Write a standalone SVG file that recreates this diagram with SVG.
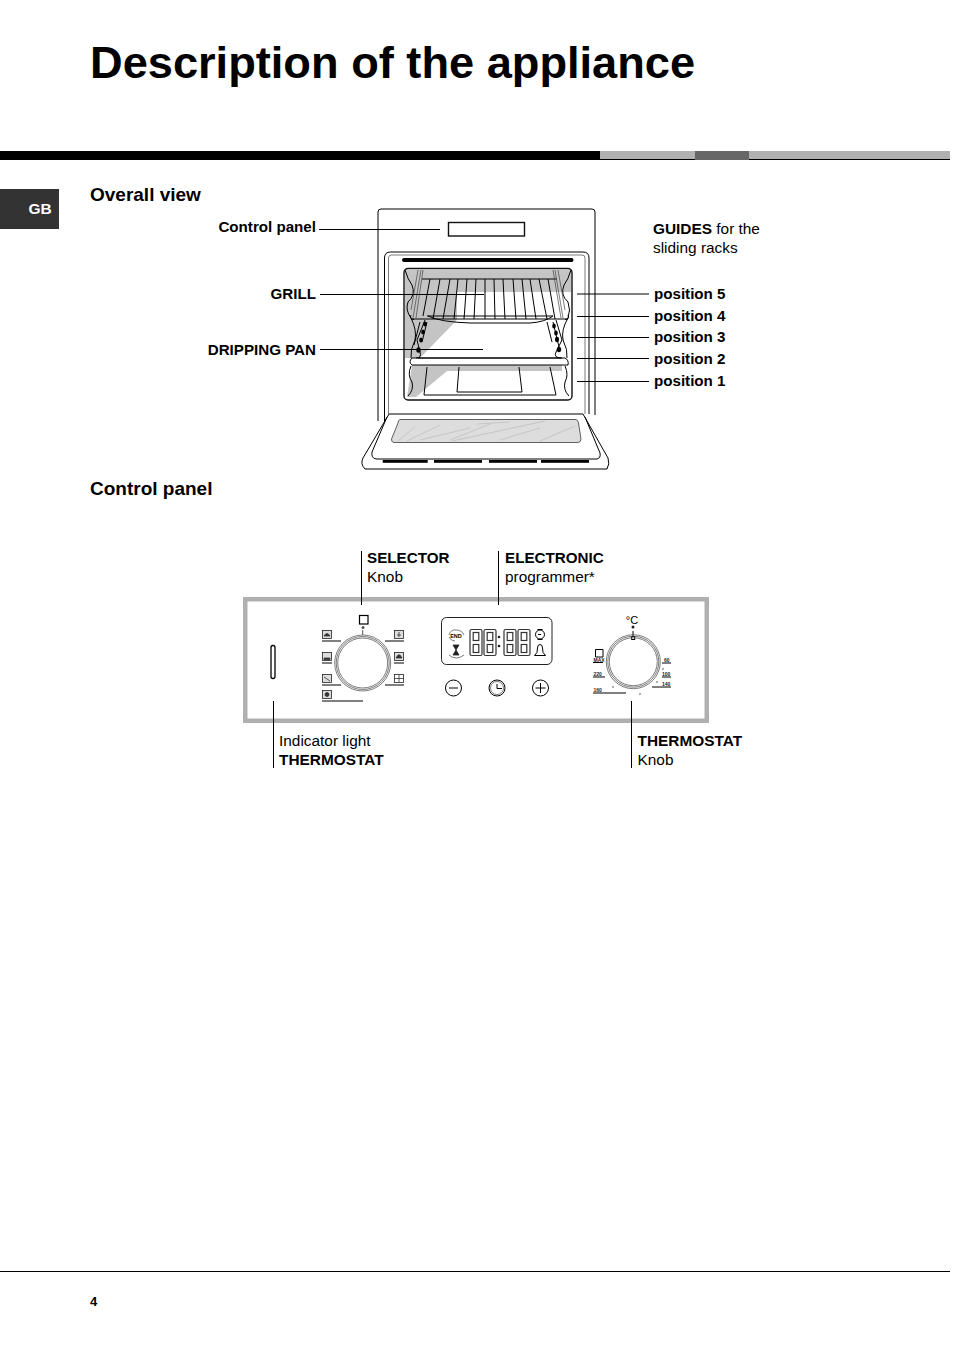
<svg xmlns="http://www.w3.org/2000/svg" xmlns:xlink="http://www.w3.org/1999/xlink" width="954" height="1351" viewBox="0 0 954 1351">
<style>
text{font-family:"Liberation Sans",Arial,sans-serif;fill:#000}
.h{font-size:19px;font-weight:bold}
.l{font-size:15.150px;font-weight:bold}
.r{font-size:15.400px}
.b{font-weight:bold}
.sb{font-size:15.200px;font-weight:bold}
.t{font-size:5px;font-weight:bold;fill:#222}
.o{fill:none;stroke:#000;stroke-width:1}
.o2{fill:none;stroke:#111;stroke-width:1.4}
.w{fill:#fff;stroke:#000;stroke-width:1}
.thin{fill:none;stroke:#444;stroke-width:.7}
.c{stroke:#000;stroke-width:1;fill:none}
.s{fill:none;stroke:#000;stroke-width:1.2}
.ic{fill:#ddd;stroke:#222;stroke-width:.8}
</style>
<defs>
<g id="digit" fill="none" stroke="#333" stroke-width="1.200">
<rect x="0" y="0" width="12" height="26" rx="1.500"/>
<rect x="3.200" y="3" width="5.600" height="8"/>
<rect x="3.200" y="15" width="5.600" height="8"/>
</g>
</defs>
<rect width="954" height="1351" fill="#fff"/>

<g id="header">
<text x="90" y="78" font-size="45.200" font-weight="bold">Description of the appliance</text>
<rect x="0" y="151" width="600" height="9" fill="#000"/>
<rect x="600" y="151" width="350" height="8" fill="#b0b0b0"/>
<rect x="600" y="159" width="350" height="1" fill="#000"/>
<rect x="695" y="151" width="54" height="9" fill="#666"/>
<rect x="0" y="189" width="59" height="40" fill="#333"/>
<text x="40" y="214" font-size="15.500" font-weight="bold" text-anchor="middle" style="fill:#fff">GB</text>
</g>

<g id="headings">
<text class="h" x="90" y="201">Overall view</text>
<text class="h" x="90" y="495">Control panel</text>
</g>

<g id="oven">
<path class="o" d="M378 421V212q0-3 3-3H592q3 0 3 3V415"/>
<rect class="o2" x="448.500" y="222.500" width="76" height="13.500"/>
<path class="o" d="M384.500 421V258q0-6 6-6H583q6 0 6 6V414"/>
<path class="thin" d="M388.500 414V258q0-3 3-3H582q3 0 3 3V414"/>
<rect x="402" y="258" width="171.500" height="4" rx="2" fill="#000"/>
<rect x="404" y="268.500" width="168" height="131.500" rx="4" fill="#fff"/>
<path fill="#c4c4c4" d="M405 270H571V292H457V320L420 358H405Z"/>
<path fill="#c4c4c4" d="M412 365H562V371H447L416 397H407Z"/>
<rect class="o2" x="404" y="268.500" width="168" height="131.500" rx="4"/>
<g id="rack">
<path class="o" d="M422 279H557M411 319H568M427 316H553"/>
<path class="o" d="M430 279L423 316M440 279L433 319M450 279L443 319M458 279L454 319M467 279L464 319M476 279L474 319M485 279V319M494 279L495 319M503 279L505 319M513 279L516 319M522 279L526 319M530 279L536 319M539 279L547 319M548 279L555 319"/>
<path class="o" d="M411 315Q409 319 414 319.500M568 315Q570 319 565 319.500M428 316Q440 322 470 323H530Q545 322 553 316"/>
</g>
<g id="pan">
<path class="w" d="M412 358H565Q569 360 568 365H412Q408 362 412 358Z"/>
<path class="o" d="M416 358Q422 358 420 352L417 340L425 320M562 358Q553 358 556 352L562 340L556 320M418 358H561"/>
<path class="o" d="M411 318Q417 330 415 340Q410 350 411 358M568 318Q561 330 563 340Q568 350 567 358"/>
</g>
<g id="guides">
<path class="o" d="M405 270Q408 280 412 285Q416 295 408 302Q405 310 411 318M571 270Q568 280 564 285Q560 295 568 302Q571 310 568 318"/>
<path class="thin" d="M421 270L413 318M418 270L411 310M423 270L416 318M555 270L563 318M558 270L565 310M553 270L561 318"/>
<path class="o" d="M420 322L414 345M427 322L422 342M553 322L559 347M547 322L552 342"/>
<path class="o" d="M411 366Q407 375 412 382Q414 390 408 396M565 366Q569 375 565 382Q563 390 569 396"/>
<g fill="#000"><ellipse cx="425" cy="324" rx="1.800" ry="2.500"/><ellipse cx="423" cy="332" rx="1.800" ry="2.500"/><ellipse cx="421" cy="340" rx="1.800" ry="2.500"/><ellipse cx="418.500" cy="350" rx="2.200" ry="2.800"/><ellipse cx="554" cy="326" rx="1.800" ry="2.500"/><ellipse cx="556" cy="333" rx="1.800" ry="2.500"/><ellipse cx="557" cy="339.500" rx="2" ry="2.800"/><ellipse cx="559" cy="349.500" rx="2.200" ry="2.800"/></g>
</g>
<path class="o" d="M427 367L424 395H556L550 367M459 367L457 392H522L519 367"/>
<g id="door">
<path class="w" stroke-width="1.200" d="M389 414H583L608 458Q610 464 607 469H365Q360 464 363 458Z"/>
<path class="o" d="M387 417L372 452Q371 458 376 459H597Q601 458 600 453L585 417"/>
<path fill="#ddd" stroke="#222" stroke-width=".7" d="M400 419.500H576Q578 420 578.500 423L581 439Q581 442 578 442.500H394Q391 442 391.500 439L398 423Q398 420 400 419.500Z"/>
<path fill="none" stroke="#b5b5b5" stroke-width=".6" d="M398 441L415 427M407 441L440 425M420 440L470 428M450 440L490 424M452 441L545 421M500 440L540 428M540 441L575 426M477 424L510 422"/>
<g fill="#000"><rect x="382.700" y="460" width="45" height="2.800"/><rect x="434" y="460" width="48" height="2.800"/><rect x="489" y="460" width="48" height="2.800"/><rect x="541" y="460" width="48" height="2.800"/></g>
</g>
</g>

<g id="labels-overall">
<text class="l" x="316" y="232" text-anchor="end">Control panel</text>
<text class="l" x="316" y="299" text-anchor="end">GRILL</text>
<text class="l" x="316" y="355" text-anchor="end">DRIPPING PAN</text>
<text class="r" x="653" y="234"><tspan class="b">GUIDES</tspan> for the</text>
<text class="r" x="653" y="253">sliding racks</text>
<text class="l" x="654" y="299">position 5</text>
<text class="l" x="654" y="321">position 4</text>
<text class="l" x="654" y="342">position 3</text>
<text class="l" x="654" y="364">position 2</text>
<text class="l" x="654" y="386">position 1</text>
</g>

<g id="panel">
<rect x="245.250" y="599.250" width="461.500" height="121.500" fill="#fff" stroke="#b0b0b0" stroke-width="4.500"/>
<rect id="indicator" x="271" y="645.500" width="4" height="33" rx="2" fill="#fff" stroke="#000" stroke-width="1.300"/>
<g id="selector">
<rect class="s" x="359.500" y="615.500" width="8.500" height="8.500"/>
<circle cx="363" cy="627.500" r="1.500" fill="#555"/>
<circle class="thin" cx="362.700" cy="663" r="28"/>
<circle class="thin" cx="362.700" cy="663" r="26.500"/>
<circle class="thin" cx="362.700" cy="663" r="25"/>
<path stroke="#555" d="M362.700 630V635"/>
<path class="c" d="M322 641H341M322 663H332M322 685H341M322 701H363M385 641H404M394 663H404M385 685H404"/>
<g class="ic">
<rect x="322.500" y="630.500" width="9" height="8"/><rect x="322.500" y="652.500" width="9" height="8"/><rect x="322.500" y="674.500" width="9" height="8"/><rect x="322.500" y="690.500" width="9" height="8"/>
<rect x="394.500" y="630.500" width="9" height="8"/><rect x="394.500" y="652.500" width="9" height="8"/><rect x="394.500" y="674.500" width="9" height="8" fill="#fff"/>
</g>
<path d="M324 636Q327 631 330 636ZM324 658H330V659.500H324ZM324 677L330 681M325 694.500a2 2 0 1 0 4 0a2 2 0 1 0-4 0M399 632V637M397 635H401M396 658H402L400 655H398ZM394.500 678.500H403.500M399 674.500V682.500" fill="#333" stroke="#333" stroke-width=".8"/>
</g>
<g id="programmer">
<rect x="441.500" y="617.500" width="110.500" height="47" rx="5" fill="#fff" stroke="#222" stroke-width="1"/>
<text x="456" y="637.500" font-size="5.500" font-weight="bold" text-anchor="middle">END</text>
<path class="thin" d="M449 635Q451 629 456 630Q462 630 464 635M449 637Q451 641 455 641"/>
<path d="M453 645H459L456 650L459 655H453L456 650Z" fill="#222" stroke="#222" stroke-width=".8"/>
<path class="thin" d="M449 655Q456 661 464 655"/>
<use xlink:href="#digit" x="470" y="629.500"/>
<use xlink:href="#digit" x="484" y="629.500"/>
<use xlink:href="#digit" x="504" y="629.500"/>
<use xlink:href="#digit" x="518" y="629.500"/>
<circle cx="499" cy="637" r="1.300" fill="#222"/><circle cx="499" cy="646" r="1.300" fill="#222"/>
<circle class="o" cx="540" cy="634.500" r="4.500"/>
<path class="s" d="M537.500 629.500H542.500M537.500 639.500H542.500M538 634.500H541"/>
<path class="o" d="M534.500 655.500Q538 653 537.500 648Q537.500 644.500 540 644.500Q542.500 644.500 542.500 648Q542 653 545.500 655.500Z"/>
<circle class="o" cx="453.500" cy="688" r="8"/>
<path class="o" d="M449 688H458"/>
<circle class="o" cx="497" cy="688" r="8"/>
<circle class="thin" cx="497" cy="688" r="6.500"/>
<path class="o" d="M497 684V688.500H502"/>
<circle class="o" cx="540.500" cy="688" r="8"/>
<path class="o" d="M535.500 688H545.500M540.500 683V693"/>
</g>
<g id="thermostat">
<text x="632" y="624" font-size="11" text-anchor="middle">°C</text>
<circle cx="633" cy="627" r="1.500" fill="#222"/>
<path stroke="#000" d="M633 631V637"/>
<rect x="631.700" y="636.500" width="3" height="3" fill="#fff" stroke="#000"/>
<circle class="thin" cx="633.300" cy="661.700" r="27"/>
<circle class="thin" cx="633.300" cy="661.700" r="25.500"/>
<circle class="thin" cx="633.300" cy="661.700" r="24"/>
<path class="o" d="M595.500 649.500H603V657H595.500Z"/>
<path class="c" d="M593 662.500H603M593 677H605M593 693H626M652 687H671M662 677H671M662 663H671"/>
<text class="t" x="593.500" y="661.500">MAX</text>
<text class="t" x="593.500" y="676">220</text>
<text class="t" x="593.500" y="692">160</text>
<text class="t" x="664" y="662">60</text>
<text class="t" x="662" y="676">100</text>
<text class="t" x="662" y="686">140</text>
<g fill="#222"><circle cx="663" cy="669" r=".7"/><circle cx="657" cy="682" r=".7"/><circle cx="640" cy="694" r=".7"/><circle cx="613" cy="687" r=".7"/></g>
</g>
</g>

<g id="labels-panel">
<text class="sb" x="367" y="563">SELECTOR</text>
<text class="r" x="367" y="582">Knob</text>
<text class="sb" x="505" y="563">ELECTRONIC</text>
<text class="r" x="505" y="582">programmer*</text>
<text class="r" x="279" y="746">Indicator light</text>
<text class="r b" x="279" y="765">THERMOSTAT</text>
<text class="r b" x="637.500" y="746">THERMOSTAT</text>
<text class="r" x="637.500" y="765">Knob</text>
</g>

<g id="connectors">
<path class="c" d="M319 229.500H440M320 294.500H484M320 349.500H483M577 294H649M577 316.500H649M577 337.500H649M577 358.500H649M577 381.500H649M361.500 551V605M498.500 551V605M273.500 701V768M631.500 701V768"/>
</g>

<g id="footer">
<rect x="0" y="1271" width="950" height="1" fill="#000"/>
<text x="90" y="1306" font-size="13" font-weight="bold">4</text>
</g>
</svg>
